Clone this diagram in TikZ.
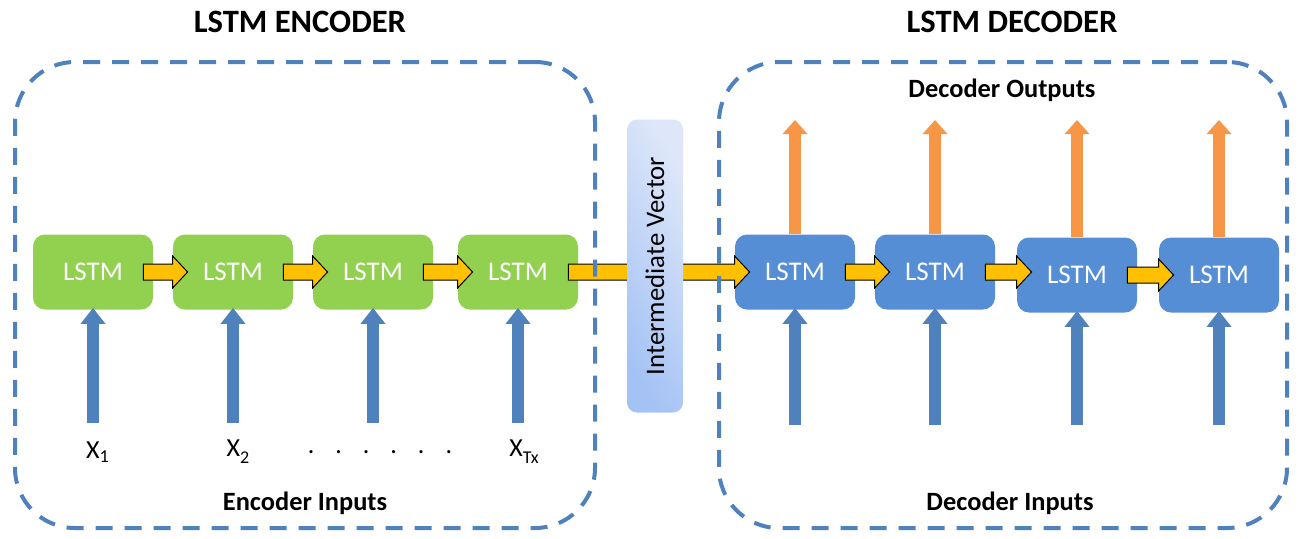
\documentclass[tikz,border=0pt]{standalone}
\usepackage{fontspec}
\setmainfont{Carlito}
\usetikzlibrary{positioning,calc,arrows.meta}

\definecolor{cellgreen}{RGB}{146,208,80}
\definecolor{cellblue}{RGB}{85,142,213}
\definecolor{feedblue}{RGB}{79,129,189}
\definecolor{outorange}{RGB}{247,150,70}
\definecolor{passyellow}{RGB}{255,192,0}
\definecolor{vecdark}{RGB}{164,194,244}
\definecolor{veclight}{RGB}{222,231,249}

% yellow block arrow from one cell to the next
\newcommand{\passarrow}[2]{%
  \coordinate (s) at ($(#1.east)+(-10,0)$);
  \coordinate (t) at ($(#2.west |- #1.east)+(15,0)$);
  \draw[pass] ($(s)+(0,-8)$) -- ($(t)+(-15,-8)$) -- ($(t)+(-15,-16)$) -- (t)
    -- ($(t)+(-15,16)$) -- ($(t)+(-15,8)$) -- ($(s)+(0,8)$) -- cycle;}
\newcommand{\lowsub}[1]{\raisebox{-0.55ex}{\fontsize{9}{10}\selectfont #1}}

\begin{document}
\begin{tikzpicture}
  [x=0.5pt, y=-0.5pt,
   cell/.style={rounded corners=6pt, minimum width=60pt,
     minimum height=37.5pt, text=white, font=\fontsize{13.5}{15}\selectfont},
   enc/.style={cell, fill=cellgreen},
   dec/.style={cell, fill=cellblue},
   pass/.style={draw=black, line width=0.5pt, fill=passyellow},
   feed/.style={line width=6pt, feedblue,
     -{Triangle[width=12pt,length=8pt]}, shorten >=-1pt},
   emit/.style={line width=6pt, outorange,
     -{Triangle[width=12pt,length=7pt]}},
   frame/.style={draw=feedblue, line width=2pt, dash pattern=on 8.5pt off 6pt,
     rounded corners=30pt},
   title/.style={font=\fontsize{16.3}{19}\selectfont\bfseries},
   caption/.style={font=\fontsize{13.2}{15}\selectfont\bfseries},
   input/.style={font=\fontsize{13}{15}\selectfont}]
  \useasboundingbox (0,0) rectangle (1298,538);

  % encoder cells
  \node[enc] (e1) at (93,272) {LSTM};
  \node[enc] (e2) at (233,272) {LSTM};
  \node[enc] (e3) at (373,272) {LSTM};
  \node[enc] (e4) at (518,272) {LSTM};

  % decoder cells
  \node[dec] (d1) at (795,272) {LSTM};
  \node[dec] (d2) at (935,272) {LSTM};
  \node[dec] (d3) at (1077,275) {LSTM};
  \node[dec] (d4) at (1219,275) {LSTM};

  % encoder inputs
  \node[input] (x1) at (98,452) {X\textsubscript{1}};
  \node[input] (x2) at (238,452) {X\lowsub{2}};
  \node[input] (dots) at (380,452) {.\hspace{10.5pt}.\hspace{10.5pt}.\hspace{10.5pt}.\hspace{10.5pt}.\hspace{10.5pt}.};
  \node[input] (xt) at (524,452) {X\lowsub{Tx}};
  \foreach \n in {1,2,3,4}
    \coordinate (ein\n) at ($(e\n.south)+(0,113)$);
  \foreach \n in {1,2,3,4}
    \draw[feed] (ein\n) -- (e\n.south);

  % decoder inputs and outputs
  \foreach \n in {1,2,3,4} {
    \coordinate (din\n) at (d\n.south |- 0,425);
    \coordinate (dout\n) at (d\n.north |- 0,120);
  }
  \foreach \n in {1,2,3,4} {
    \draw[feed] (din\n) -- (d\n.south);
    \draw[emit] (d\n.north) -- (dout\n);
  }

  % hidden state passed along
  \passarrow{e1}{e2}
  \passarrow{e2}{e3}
  \passarrow{e3}{e4}
  \passarrow{e4}{d1}
  \passarrow{d1}{d2}
  \passarrow{d2}{d3}
  \passarrow{d3}{d4}

  \node[rounded corners=5pt, minimum width=28pt, minimum height=146.5pt,
    left color=vecdark, right color=veclight, shading angle=120]
    (vec) at (655,266) {};
  \node[rotate=90, font=\fontsize{13.4}{15}\selectfont] at (vec) {Intermediate Vector};

  % encoder / decoder frames
  \node[frame, minimum width=290pt, minimum height=233pt] (encbox) at (305,295) {};
  \node[frame, minimum width=284pt, minimum height=233pt] (decbox) at (1003,295) {};

  \node[title] (enctitle) at (300,22) {LSTM ENCODER};
  \node[title] (dectitle) at (1012,22) {LSTM DECODER};
  \node[caption] (encin) at (305,503) {Encoder Inputs};
  \node[caption] (decin) at (1010,503) {Decoder Inputs};
  \node[caption] (decout) at (1002,90) {Decoder Outputs};
\end{tikzpicture}
\end{document}
